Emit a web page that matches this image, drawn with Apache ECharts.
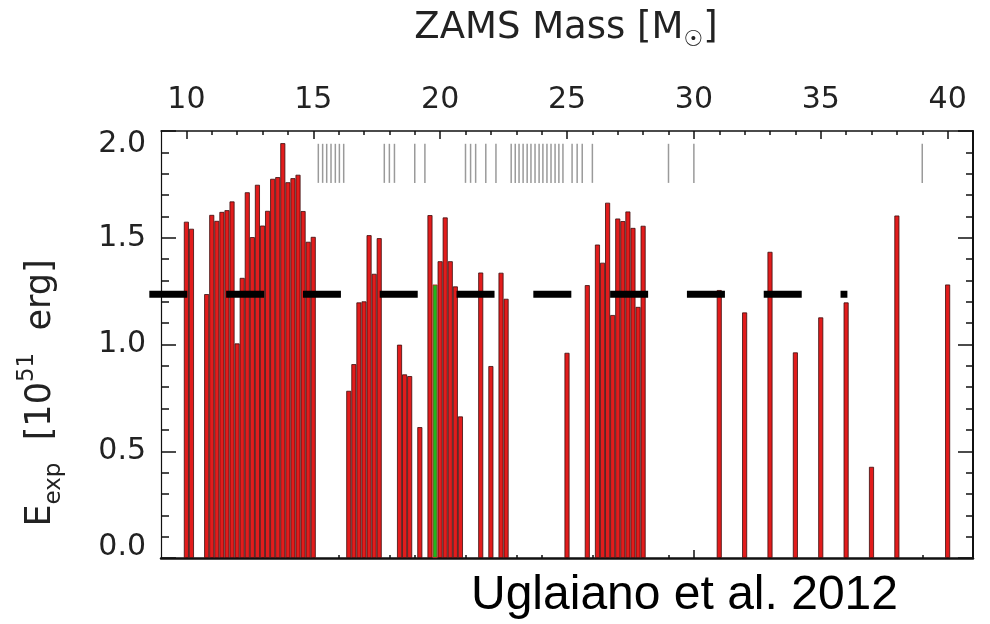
<!DOCTYPE html>
<html>
<head>
<meta charset="utf-8">
<script src="https://cdn.jsdelivr.net/npm/echarts@6/dist/echarts.min.js"></script>
<style>
  html, body { margin: 0; padding: 0; background: #fff; }
  #chart { width: 990px; height: 624px; }
</style>
</head>
<body>
<div id="chart"></div>
<script>
// ZAMS masses of exploding models and their explosion energies [10^51 erg]
const massBars = [10.0, 10.2, 10.8, 11.0, 11.2, 11.4, 11.6, 11.8, 12.0, 12.2, 12.4, 12.6, 12.8, 13.0, 13.2, 13.4, 13.6, 13.8, 14.0, 14.2, 14.4, 14.6, 14.8, 15.0,
  16.4, 16.6, 16.8, 17.0, 17.2, 17.4, 17.6, 18.4, 18.6, 18.8, 19.2, 19.6, 19.8, 20.0, 20.2, 20.4, 20.6, 20.8,
  21.6, 22.0, 22.4, 22.6, 25.0, 25.8, 26.2, 26.4, 26.6, 26.8, 27.0, 27.2, 27.4, 27.6, 27.8, 28.0,
  31, 32, 33, 34, 35, 36, 37, 38, 40];
const eexp = [1.575, 1.542, 1.236, 1.607, 1.579, 1.621, 1.629, 1.670, 1.005, 1.312, 1.713, 1.503, 1.748, 1.557, 1.626, 1.776, 1.784, 1.943, 1.760, 1.779, 1.795, 1.625, 1.481, 1.504,
  0.783, 0.908, 1.197, 1.202, 1.512, 1.331, 1.498, 0.999, 0.860, 0.852, 0.613, 1.606, 1.281, 1.390, 1.595, 1.390, 1.272, 0.663,
  1.337, 0.899, 1.336, 1.214, 0.961, 1.278, 1.468, 1.383, 1.664, 1.138, 1.590, 1.578, 1.623, 1.546, 1.176, 1.556,
  1.255, 1.150, 1.434, 0.963, 1.127, 1.197, 0.427, 1.604, 1.281];
const highlightMass = 19.8;
// Non-exploding (BH-forming) models, marked by grey ticks
const failedMasses = [15.2, 15.37, 15.53, 15.7, 15.87, 16.03, 16.2,
  17.8, 18.0, 18.2, 19.0, 19.4,
  21.0, 21.2, 21.4, 21.8, 22.2,
  22.8, 22.96, 23.11, 23.27, 23.43, 23.58, 23.74, 23.9, 24.05, 24.21, 24.37, 24.53, 24.68, 24.84,
  25.2, 25.4, 25.6, 26.0, 29.0, 30.0, 39.0];
const failedMarkRange = [1.757, 1.94];
// Dashed reference line
const lineMass = [8.54, 36.05];
const lineEnergy = 1.235;
// Axis ticks
const xMajor = [10, 15, 20, 25, 30, 35, 40];
const xMinor = [10, 11, 12, 13, 14, 16, 17, 18, 19, 21, 22, 23, 24, 26, 27, 28, 29, 31, 32, 33, 34, 36, 37, 38, 39, 41];
const xRange = [9, 41];
const yRange = [0, 2];

const FONT = '"DejaVu Sans", sans-serif';
const TXT = '#222';
const chart = echarts.init(document.getElementById('chart'), null, { renderer: 'canvas' });

const barData = massBars.map((m, i) => {
  if (m === highlightMass) {
    return { value: [m, eexp[i]], itemStyle: { color: '#1fb51f', borderColor: '#c81c1c', borderWidth: 0.8 } };
  }
  return [m, eexp[i]];
});

function xAxisBase(pos, ticks, len, showLine, lineW, labels) {
  return {
    type: 'value', position: pos, min: xRange[0], max: xRange[1],
    axisLine: { show: showLine, onZero: false, lineStyle: { color: '#111', width: lineW } },
    axisTick: { show: true, inside: true, length: len, customValues: ticks, lineStyle: { color: '#111', width: 1.5 } },
    axisLabel: labels ? { show: true, customValues: xMajor, fontSize: 30, fontFamily: FONT, color: TXT, margin: 16 } : { show: false },
    splitLine: { show: false }
  };
}

function yAxisBase(pos, showLabels, lineW, minorLen) {
  return {
    type: 'value', position: pos, min: yRange[0], max: yRange[1], interval: 0.5,
    axisLine: { show: true, onZero: false, lineStyle: { color: '#111', width: lineW } },
    axisTick: { show: true, inside: true, length: 15, lineStyle: { color: '#111', width: 1.5 } },
    minorTick: { show: true, splitNumber: 5, length: minorLen, lineStyle: { color: '#111', width: 1.5 } },
    splitLine: { show: false },
    axisLabel: showLabels ? {
      show: true, margin: 15,
      formatter: function (v) {
        const s = v.toFixed(1);
        if (v === 2) return '{t|' + s + '}';
        if (v === 0) return '{b|' + s + '}';
        return '{n|' + s + '}';
      },
      rich: {
        n: { fontSize: 30, fontFamily: FONT, color: TXT },
        t: { fontSize: 30, fontFamily: FONT, color: TXT, padding: [26, 0, 0, 0] },
        b: { fontSize: 30, fontFamily: FONT, color: TXT, padding: [0, 0, 22, 0] }
      }
    } : { show: false }
  };
}

const option = {
  animation: false,
  backgroundColor: '#fff',
  grid: { left: 161, right: 17, top: 131, bottom: 66, containLabel: false },
  xAxis: [
    xAxisBase('top', xMajor, 8, true, 1.5, true),
    xAxisBase('top', xMinor, 4, false, 1.5, false),
    xAxisBase('bottom', xMajor, 8, true, 2.5, false),
    xAxisBase('bottom', xMinor, 3, false, 2.5, false)
  ],
  yAxis: [
    yAxisBase('left', true, 1.2, 8),
    yAxisBase('right', false, 2, 7)
  ],
  series: [
    {
      type: 'bar', xAxisIndex: 0, yAxisIndex: 0, barWidth: 5, z: 2,
      itemStyle: { color: '#e21c1c', borderColor: '#3a0c0c', borderWidth: 0.8 },
      data: barData
    },
    {
      type: 'custom', xAxisIndex: 0, yAxisIndex: 0, z: 3,
      data: failedMasses.map(m => [m, failedMarkRange[0], failedMarkRange[1]]),
      encode: { x: 0, y: [1, 2] },
      renderItem: function (params, api) {
        const x = api.value(0);
        const p1 = api.coord([x, api.value(1)]);
        const p2 = api.coord([x, api.value(2)]);
        return { type: 'line', shape: { x1: p1[0], y1: p1[1], x2: p2[0], y2: p2[1] },
          style: { stroke: '#9a9a9a', lineWidth: 1.5 } };
      }
    },
    {
      type: 'custom', xAxisIndex: 0, yAxisIndex: 0, z: 5, clip: false, silent: true,
      data: [[lineMass[0], lineMass[1], lineEnergy]],
      encode: { x: [0, 1], y: 2 },
      renderItem: function (params, api) {
        const p1 = api.coord([api.value(0), api.value(2)]);
        const p2 = api.coord([api.value(1), api.value(2)]);
        return { type: 'line', shape: { x1: p1[0], y1: p1[1], x2: p2[0], y2: p2[1] },
          style: { stroke: '#000', lineWidth: 7, lineDash: [38, 38.8], lineCap: 'butt' } };
      }
    }
  ],
  graphic: [
    {
      type: 'text', x: 566, y: 28,
      style: {
        text: 'ZAMS Mass [M{sub|☉}]', align: 'center', verticalAlign: 'middle',
        fontSize: 37, fontFamily: FONT, fill: TXT, lineHeight: 46,
        rich: {
          sub: { fontSize: 22, fontFamily: FONT, fill: TXT, verticalAlign: 'bottom', lineHeight: 46 }
        }
      }
    },
    {
      type: 'text', x: 41, y: 393, rotation: Math.PI / 2,
      style: {
        text: 'E{sub|exp}  [10{sup|51}  erg]', align: 'center', verticalAlign: 'middle',
        fontSize: 35, fontFamily: FONT, fill: TXT, lineHeight: 50,
        rich: {
          sub: { fontSize: 23, fontFamily: FONT, fill: TXT, verticalAlign: 'bottom', lineHeight: 50 },
          sup: { fontSize: 23, fontFamily: FONT, fill: TXT, verticalAlign: 'top', lineHeight: 50 }
        }
      }
    },
    {
      type: 'text', x: 471, y: 596,
      style: {
        text: 'Uglaiano et al. 2012', align: 'left', verticalAlign: 'middle',
        fontSize: 48, fontFamily: '"Liberation Sans", Arial, sans-serif', fill: '#000'
      }
    }
  ]
};
chart.setOption(option);
</script>
</body>
</html>
